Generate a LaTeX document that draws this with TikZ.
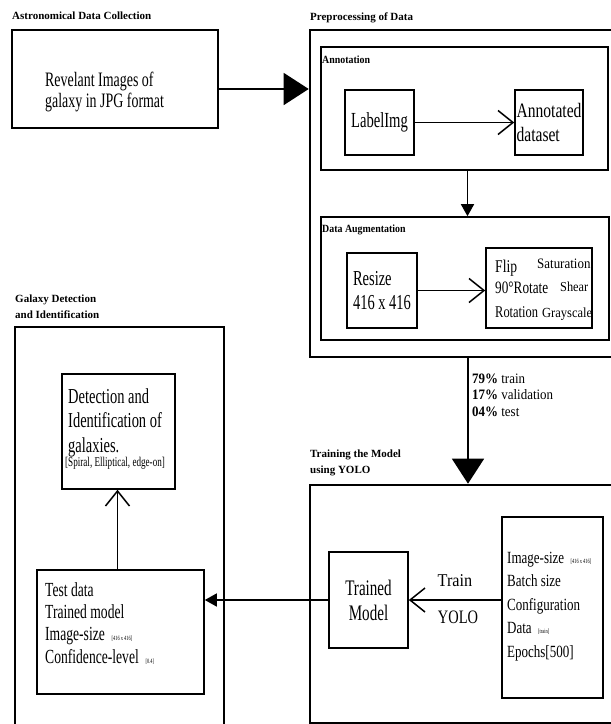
\documentclass[tikz,border=0pt]{standalone}
\usepackage{fontspec}
\setmainfont{Liberation Serif}
\newfontfamily\condA{Liberation Serif}[FakeStretch=0.68]
\newfontfamily\condB{Liberation Serif}[FakeStretch=0.76]
\newfontfamily\condC{Liberation Serif}[FakeStretch=0.9]
\usetikzlibrary{arrows.meta}

\begin{document}
\begin{tikzpicture}[x=1pt,y=-1pt,
		stage/.style={draw,line width=2.6pt,inner sep=0pt},
		group/.style={draw,line width=1.6pt,inner sep=0pt},
		block/.style={draw,line width=1.6pt,inner sep=0pt,align=left},
		txt/.style={inner sep=0pt,align=left,anchor=base west},
		head/.style={txt,font=\fontsize{11}{16}\selectfont\bfseries},
		subhead/.style={txt,font=\condC\fontsize{11}{12}\selectfont\bfseries},
		flow/.style={line width=1.5pt},
		bighead/.style={flow,-{Triangle[length=25pt,width=32pt]}},
		smallhead/.style={flow,-{Triangle[length=12pt,width=13pt]}},
		openhead/.style={flow,-{Straight Barb[length=15pt,width=24pt]}}]
			\newcommand{\mytinynote}[1]{
				{\condA\fontsize{6.5}{7}\selectfont{#1}}
			}%Page frame
			\useasboundingbox (0,0) rectangle (611,724);
			\clip (0,0) rectangle (611,724);
			%Astronomical Data Collection
			\node [head] (headCollect) at (12,19) {Astronomical Data Collection};
			\node [stage,minimum width=206pt,minimum height=98pt] (collect) at (115,79) {};
			\node [txt,font=\condA\fontsize{20.5}{21}\selectfont] (collectText) at (45,107) {Revelant Images of\\galaxy in JPG format};
			%Preprocessing of Data
			\node [head] (headPrep) at (310,20) {Preprocessing of Data};
			\node [stage,minimum width=330pt,minimum height=327pt] (prep) at (475,193.5) {};
			\draw [bighead] ([yshift=-10pt]collect.east) -- ([yshift=-10pt]collect.east -| prep.west);
			%Annotation
			\node [group,minimum width=287pt,minimum height=123pt] (annot) at (464.5,108.5) {};
			\node [subhead] (headAnnot) at (322,63) {Annotation};
			\node [block,minimum width=69pt,minimum height=65pt,align=center,font=\condA\fontsize{21.5}{23}\selectfont] (labelimg) at (379.5,122.5) {LabelImg};
			\node [block,minimum width=68pt,minimum height=65pt,font=\condB\fontsize{20.5}{23.3}\selectfont] (annotated) at (549,122.5) {Annotated\\dataset};
			\draw [openhead] (labelimg.east) -- (annotated.west);
			%Data Augmentation
			\node [group,minimum width=288pt,minimum height=123pt] (augment) at (465,278.5) {};
			\node [subhead] (headAugment) at (322,232) {Data Augmentation};
			\draw [smallhead] ([xshift=3pt]annot.south) -- ([xshift=3pt]annot.south |- augment.north);
			\node [block,minimum width=70pt,minimum height=75pt,font=\condA\fontsize{21.3}{23.4}\selectfont] (resize) at (382,290.5) {Resize\\416 x 416};
			\node [block,minimum width=106pt,minimum height=80pt] (ops) at (539,288) {};
			\draw [openhead] (resize.east) -- (resize.east -| ops.west);
			\node [txt,font=\condB\fontsize{17.9}{20}\selectfont] (opFlip) at (495,272.5) {Flip};
			\node [txt,font=\condC\fontsize{14.4}{16}\selectfont] (opSaturation) at (537,268.3) {Saturation};
			\node [txt,font=\condB\fontsize{17.4}{20}\selectfont] (opRotate) at (495,293.3) {90°Rotate};
			\node [txt,font=\condC\fontsize{13.7}{16}\selectfont] (opShear) at (560,291.7) {Shear};
			\node [txt,font=\condB\fontsize{16.4}{20}\selectfont] (opRotation) at (495,317) {Rotation};
			\node [txt,font=\condC\fontsize{13.9}{16}\selectfont] (opGray) at (542,317) {Grayscale};
			%Training the Model using YOLO
			\node [head] (headTrain) at (310,473) {Training the Model\\using YOLO};
			\node [stage,minimum width=330pt,minimum height=238pt] (train) at (475,604) {};
			\draw [bighead] ([xshift=-7pt]prep.south) -- ([xshift=-7pt]prep.south |- train.north);
			\node [txt,font=\condC\fontsize{14.4}{16.5}\selectfont] (split) at (472,416) {\textbf{79\%} train\\\textbf{17\%} validation\\\textbf{04\%} test};
			\node [block,minimum width=79pt,minimum height=96pt,align=center,font=\condA\fontsize{22.2}{25}\selectfont] (trained) at (368.5,600) {Trained\\Model};
			\node [block,minimum width=101pt,minimum height=181pt] (params) at (552.5,607.5) {};
			\node [txt,font=\condB\fontsize{17.1}{23.5}\selectfont] (paramsText) at (507,657) {Image-size \mytinynote{[416 x 416]}\\Batch size\\Configuration\\Data \mytinynote{[train]}\\Epochs[500]};
			\draw [openhead] (params.west |- trained.east) -- (trained.east);
			\node [inner sep=0pt,font=\condC\fontsize{18}{20}\selectfont] (trainLabel) at (455,581) {Train};
			\node [inner sep=0pt,font=\condB\fontsize{19}{20}\selectfont] (yoloLabel) at (458,617) {YOLO};
			%Galaxy Detection and Identification
			\node [head] (headGalaxy) at (15,318) {Galaxy Detection\\and Identification};
			\node [stage,minimum width=209pt,minimum height=413pt] (galaxy) at (119.5,533.5) {};
			\node [block,minimum width=113pt,minimum height=115pt] (detect) at (118.5,431.5) {};
			\node [txt,font=\condA\fontsize{21.3}{24.3}\selectfont] (detectText) at (68,452) {Detection and\\Identification of\\galaxies.};
			\node [txt,font=\condA\fontsize{13.4}{15}\selectfont] (detectNote) at (65,466) {[Spiral, Elliptical, edge-on]};
			\node [block,minimum width=167pt,minimum height=124pt] (test) at (120.5,632) {};
			\node [txt,font=\condA\fontsize{20}{22.1}\selectfont] (testText) at (45,663) {Test data\\Trained model\\Image-size \mytinynote{[416 x 416]}\\Confidence-level \mytinynote{[0.4]}};
			\draw [smallhead] (trained.west) -- (trained.west -| test.east);
			\draw [openhead] ([xshift=-3pt]test.north) -- ([xshift=-3pt]test.north |- detect.south);
\end{tikzpicture}
\end{document}
